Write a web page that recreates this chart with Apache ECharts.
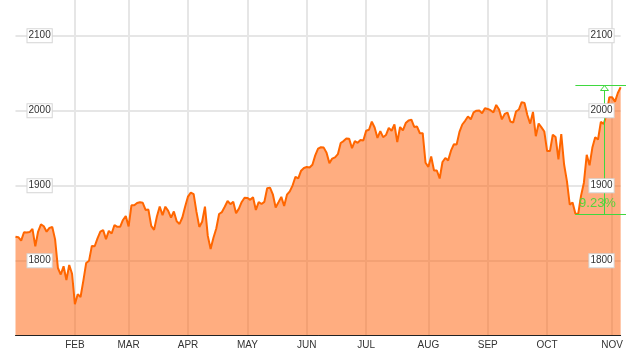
<!DOCTYPE html>
<html><head><meta charset="utf-8">
<script src="https://cdn.jsdelivr.net/npm/echarts@6/dist/echarts.min.js"></script>
<style>html,body{margin:0;padding:0;background:#fff}#c{width:626px;height:353px}</style>
</head><body><div id="c"></div>
<script>
// Trading days (day of month) and closing values per month
const monthLabels = ['JAN','FEB','MAR','APR','MAY','JUN','JUL','AUG','SEP','OCT','NOV'];
const janDays = [2,3,6,7,8,9,10,13,14,15,16,17,21,22,23,24,27,28,29,30,31];
const janValues = [1831.98,1831.37,1826.77,1837.88,1837.49,1838.13,1842.37,1819.20,1838.88,1848.38,1845.89,1838.70,1843.80,1844.86,1828.46,1790.29,1781.56,1792.50,1774.20,1794.19,1782.59];
const febDays = [3,4,5,6,7,10,11,12,13,14,18,19,20,21,24,25,26,27,28];
const febValues = [1741.89,1755.20,1751.64,1773.43,1797.02,1799.84,1819.75,1819.26,1829.83,1838.63,1840.76,1828.75,1839.78,1836.25,1847.61,1845.12,1845.16,1854.29,1859.45];
const marDays = [3,4,5,6,7,10,11,12,13,14,17,18,19,20,21,24,25,26,27,28,31];
const marValues = [1845.73,1873.91,1873.81,1877.03,1878.04,1877.17,1867.63,1868.20,1846.34,1841.13,1858.83,1872.25,1860.77,1872.01,1866.52,1857.44,1865.62,1852.56,1849.04,1857.62,1872.34];
const aprDays = [1,2,3,4,7,8,9,10,11,14,15,16,17,21,22,23,24,25,28,29,30];
const aprValues = [1885.52,1890.90,1888.77,1865.09,1845.04,1851.96,1872.18,1833.08,1815.69,1830.61,1842.98,1862.31,1864.85,1871.89,1879.55,1875.39,1878.61,1863.40,1869.43,1878.33,1883.95];
const mayDays = [1,2,5,6,7,8,9,12,13,14,15,16,19,20,21,22,23,27,28,29,30];
const mayValues = [1883.68,1881.14,1884.66,1867.72,1878.21,1875.63,1878.48,1896.65,1897.45,1888.53,1870.85,1877.86,1885.08,1872.83,1888.03,1892.49,1900.53,1911.91,1909.78,1920.03,1923.57];
const junDays = [2,3,4,5,6,9,10,11,12,13,16,17,18,19,20,23,24,25,26,27,30];
const junValues = [1924.97,1924.24,1927.88,1940.46,1949.44,1951.27,1950.79,1943.89,1930.11,1936.16,1937.78,1941.99,1956.98,1959.48,1962.87,1962.61,1949.98,1959.53,1957.22,1960.96,1960.23];
const julDays = [1,2,3,7,8,9,10,11,14,15,16,17,18,21,22,23,24,25,28,29,30,31];
const julValues = [1973.32,1974.62,1985.44,1977.65,1963.71,1972.83,1964.68,1967.57,1977.10,1973.28,1981.57,1958.12,1978.22,1973.63,1983.53,1987.01,1987.98,1978.34,1978.91,1969.95,1970.07,1930.67];
const augDays = [1,4,5,6,7,8,11,12,13,14,15,18,19,20,21,22,25,26,27,28,29];
const augValues = [1925.15,1938.99,1920.21,1920.24,1909.57,1931.59,1936.92,1933.75,1946.72,1955.18,1955.06,1971.74,1981.60,1986.51,1992.37,1988.40,1997.92,2000.02,2000.12,1996.74,2003.37];
const sepDays = [2,3,4,5,8,9,10,11,12,15,16,17,18,19,22,23,24,25,26,29,30];
const sepValues = [2002.28,2000.72,1997.65,2007.71,2001.54,1988.44,1995.69,1997.45,1985.54,1984.13,1998.98,2001.57,2011.36,2010.40,1994.29,1982.77,1998.30,1965.99,1982.85,1977.80,1972.29];
const octDays = [1,2,3,6,7,8,9,10,13,14,15,16,17,20,21,22,23,24,27,28,29,30,31];
const octValues = [1946.16,1946.17,1967.90,1964.82,1935.10,1968.89,1928.21,1906.13,1874.74,1877.70,1862.49,1862.76,1886.76,1904.01,1941.28,1927.11,1950.82,1964.58,1961.63,1985.05,1982.30,1994.65,2018.05];
const novDays = [3,4,5,6];
const novValues = [2017.81,2012.10,2023.57,2031.21];

// Annotation
const changeLabel = '9.23%';
const changePct = 9.23;
const markerDate = '10-29';

const monthDays = [janDays,febDays,marDays,aprDays,mayDays,junDays,julDays,augDays,sepDays,octDays,novDays];
const monthValues = [janValues,febValues,marValues,aprValues,mayValues,junValues,julValues,augValues,sepValues,octValues,novValues];

const dates = [], values = [], monthStart = {};
monthDays.forEach((days, m) => {
  days.forEach((d, k) => {
    if (k === 0) monthStart[dates.length] = monthLabels[m];
    dates.push(String(m + 1).padStart(2, '0') + '-' + String(d).padStart(2, '0'));
    values.push(monthValues[m][k]);
  });
});

const isMonthTick = (i) => i > 0 && monthStart[i] !== undefined;

const yMin = 1700, yMax = 2147.6;
const labelBox = {
  inside: true, color: '#333', fontSize: 10, fontFamily: 'Liberation Sans, Arial, sans-serif',
  backgroundColor: '#fff', borderColor: '#d6d6d6', borderWidth: 1, padding: [2, 1, 1, 1],
  showMinLabel: false, showMaxLabel: false, formatter: (v) => String(v)
};

const chart = echarts.init(document.getElementById('c'), null, {renderer: 'canvas'});
chart.setOption({
  animation: false,
  backgroundColor: '#fff',
  grid: {left: 15.5, right: 4.5, top: 0, bottom: 17.3, containLabel: false},
  xAxis: [
    {
      type: 'category', data: dates, boundaryGap: false, position: 'bottom', z: 10,
      axisLine: {lineStyle: {color: '#222', width: 1}},
      axisTick: {show: false},
      axisLabel: {interval: (i) => isMonthTick(i), formatter: (v, i) => monthStart[i] || '',
        color: '#333', fontSize: 10, fontFamily: 'Liberation Sans, Arial, sans-serif', margin: 5},
      splitLine: {show: false}
    },
    {
      type: 'category', data: dates, boundaryGap: false, position: 'top', z: 0,
      axisLine: {show: false}, axisTick: {show: false}, axisLabel: {show: false},
      splitLine: {show: true, interval: (i) => isMonthTick(i), lineStyle: {color: '#e6e6e6', width: 2}}
    }
  ],
  yAxis: [
    {type: 'value', min: yMin, max: yMax, interval: 100, z: 0,
     axisLine: {show: false}, axisTick: {show: false}, axisLabel: {show: false},
     splitLine: {showMaxLine: false, showMinLine: false, lineStyle: {color: '#e6e6e6', width: 2}}},
    {type: 'value', position: 'left', min: yMin, max: yMax, interval: 100, z: 10,
     axisLine: {show: false}, axisTick: {show: false}, splitLine: {show: false},
     axisLabel: Object.assign({margin: 12}, labelBox)},
    {type: 'value', position: 'right', min: yMin, max: yMax, interval: 100, z: 10,
     axisLine: {show: false}, axisTick: {show: false}, splitLine: {show: false},
     axisLabel: Object.assign({margin: 7}, labelBox)}
  ],
  series: [{
    type: 'line', data: values, xAxisIndex: 0, yAxisIndex: 0, z: 2,
    showSymbol: false, symbol: 'none',
    lineStyle: {color: '#FF6600', width: 2},
    areaStyle: {color: '#FF5B01', opacity: 0.5}
  }]
});

// Annotation placed through the chart's own scales
const recent = values.slice(values.length - 40);
const lowIdx = values.length - 40 + recent.indexOf(Math.min(...recent));
const lowVal = values[lowIdx];
const topVal = lowVal * (1 + changePct / 100);
const pLow = chart.convertToPixel({xAxisIndex: 0, yAxisIndex: 0}, [lowIdx, lowVal]);
const pTop = chart.convertToPixel({xAxisIndex: 0, yAxisIndex: 0}, [lowIdx, topVal]);
const pMark = chart.convertToPixel({xAxisIndex: 0, yAxisIndex: 0}, [dates.indexOf(markerDate), lowVal]);
const W = chart.getWidth();
const green = '#3fd83f';
const vx = Math.round(pMark[0]) + 0.5;
const yl = Math.round(pLow[1]) + 0.5, yt = Math.round(pTop[1]) + 0.5;
chart.setOption({
  graphic: {elements: [
    {type: 'line', z: 5, shape: {x1: pLow[0], y1: yl, x2: W, y2: yl}, style: {stroke: green, lineWidth: 1}},
    {type: 'line', z: 5, shape: {x1: pLow[0], y1: yt, x2: W, y2: yt}, style: {stroke: green, lineWidth: 1}},
    {type: 'line', z: 5, shape: {x1: vx, y1: yl, x2: vx, y2: yt + 5}, style: {stroke: green, lineWidth: 1}},
    {type: 'polygon', z: 5, shape: {points: [[vx, yt], [vx - 4, yt + 5], [vx + 4, yt + 5]]}, style: {fill: '#fff', stroke: green, lineWidth: 1}},
    {type: 'text', z: 6, x: vx - 7, y: pLow[1] - 10, style: {text: changeLabel, fill: '#55d43a', fontSize: 13, fontFamily: 'Liberation Sans, Arial, sans-serif', align: 'center', verticalAlign: 'middle'}}
  ]}
});
</script>
</body></html>
